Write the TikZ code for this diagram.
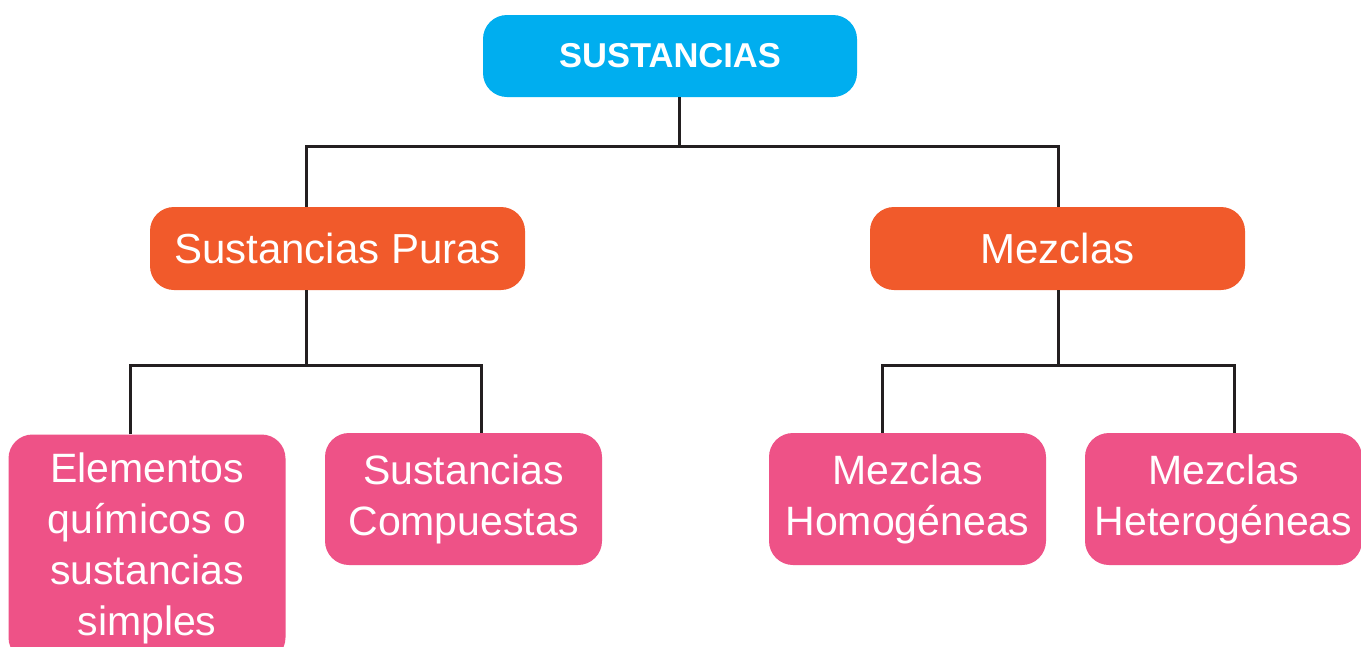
\documentclass[tikz,border=0pt]{standalone}
\usepackage{fontspec}
\setmainfont{Liberation Sans}
\definecolor{cblue}{HTML}{00AEEF}
\definecolor{corange}{HTML}{F15A2B}
\definecolor{cpink}{HTML}{EE5287}
\definecolor{cline}{HTML}{231F20}
\begin{document}
\begin{tikzpicture}[x=1pt,y=-1pt,
  box/.style={rounded corners=24pt, text=white, align=center, inner sep=0pt, draw=none},
  topbox/.style={box, fill=cblue, minimum width=374pt, minimum height=82pt, font=\fontsize{34.5}{40}\selectfont\bfseries},
  midbox/.style={box, fill=corange, minimum width=375pt, minimum height=83pt, font=\fontsize{42}{50}\selectfont},
  leafbox/.style={box, fill=cpink, minimum width=277pt, minimum height=132pt, font=\fontsize{41}{51}\selectfont},
  conn/.style={draw=cline, line width=3pt, line join=miter}]
\useasboundingbox (0,0) rectangle (1361,646);
\fill[white] (0,0) rectangle (1361,646);
\node[topbox] (s) at (670,56) {SUSTANCIAS};
\node[midbox] (p) at (337.5,248.5) {Sustancias Puras};
\node[midbox] (m) at (1057.5,248.5) {Mezclas};
\node[leafbox, minimum height=227pt] (e) at (147,548) {Elementos\\químicos o\\sustancias\\simples};
\node[leafbox] (c) at (463.5,499) {Sustancias\\Compuestas};
\node[leafbox] (ho) at (907.5,499) {Mezclas\\Homogéneas};
\node[leafbox] (he) at (1223.5,499) {Mezclas\\Heterogéneas};
\coordinate (j0) at (679,146);
\coordinate (a1) at (306,146);
\coordinate (a2) at (1058,146);
\coordinate (b0) at (306,365);
\coordinate (b1) at (130,365);
\coordinate (b2) at (481,365);
\coordinate (c0) at (1058,365);
\coordinate (c1) at (882,365);
\coordinate (c2) at (1234,365);
\draw[conn] (s.south -| j0) -- (j0);
\draw[conn] (p.north -| a1) -- (a1) -- (a2) -- (m.north -| a2);
\draw[conn] (p.south -| b0) -- (b0);
\draw[conn] (e.north -| b1) -- (b1) -- (b2) -- (c.north -| b2);
\draw[conn] (m.south -| c0) -- (c0);
\draw[conn] (ho.north -| c1) -- (c1) -- (c2) -- (he.north -| c2);
\end{tikzpicture}
\end{document}
